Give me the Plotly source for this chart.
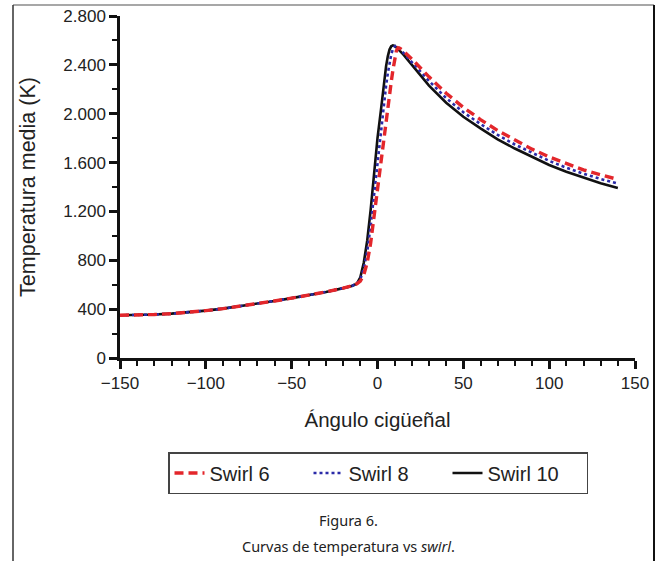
import plotly.graph_objects as go

# Crank angle (degrees) and mean in-cylinder temperature (K) for three swirl ratios
angle = [-150, -140, -130, -120, -110, -100, -90, -80, -70, -60, -50, -40, -30, -20,
         -15, -12, -10, -8, -6, -4, -2, 0, 2, 4, 5, 6, 7, 8, 9, 10, 11, 12, 13, 15,
         20, 30, 40, 50, 60, 70, 80, 90, 100, 110, 120, 130, 140]

compression = [350, 352, 356, 363, 373, 388, 404, 423, 445, 467, 490, 515, 541, 572,
               590, 608]

swirl10 = compression + [660, 780, 960, 1210, 1530, 1800, 2030, 2280, 2390, 2470,
                         2525, 2552, 2560, 2556, 2545, 2530, 2515, 2485,
                         2400, 2230, 2090, 1975, 1880, 1790, 1715, 1645, 1580,
                         1525, 1475, 1430, 1392]

swirl8 = compression + [645, 730, 870, 1080, 1340, 1620, 1880, 2120, 2230, 2330,
                        2420, 2485, 2530, 2552, 2556, 2548, 2535, 2500,
                        2425, 2268, 2128, 2012, 1916, 1826, 1748, 1678, 1614,
                        1558, 1508, 1466, 1428]

swirl6 = compression + [630, 680, 780, 940, 1160, 1420, 1650, 1870, 1965, 2060,
                        2150, 2260, 2360, 2450, 2515, 2540, 2536, 2515,
                        2448, 2302, 2168, 2052, 1952, 1862, 1782, 1710, 1646,
                        1590, 1540, 1500, 1462]

series_names = ["Swirl 6", "Swirl 8", "Swirl 10"]
x_tick_vals = [-150, -100, -50, 0, 50, 100, 150]
y_tick_vals = [0, 400, 800, 1200, 1600, 2000, 2400, 2800]

AXIS_FONT = "Liberation Sans, Arial, sans-serif"

fig = go.Figure()

# Drawn solid first so the dotted and dashed curves sit on top of it
fig.add_trace(go.Scatter(x=angle, y=swirl10, mode="lines", name=series_names[2],
                         legendrank=3,
                         line=dict(color="#111111", width=2.6)))
fig.add_trace(go.Scatter(x=angle, y=swirl8, mode="lines", name=series_names[1],
                         legendrank=2,
                         line=dict(color="#2a2aa8", width=2.6, dash="dot")))
fig.add_trace(go.Scatter(x=angle, y=swirl6, mode="lines", name=series_names[0],
                         legendrank=1,
                         line=dict(color="#e3262b", width=3.4, dash="9px,5px")))

W, H = 657, 561
L, R, T, B = 120, 22, 16, 203
PW, PH = W - L - R, H - T - B


def px(xp):
    return (xp - L) / PW


def py(yp):
    return (H - B - yp) / PH


# Thin frame around the whole figure and its caption
frame = [
    dict(x0=px(13), x1=px(654), y0=py(5), y1=py(5), color="#8a8a8a", w=1.5),
    dict(x0=px(13), x1=px(13), y0=py(5), y1=py(561), color="#333333", w=1.5),
    dict(x0=px(654), x1=px(654), y0=py(5), y1=py(561), color="#111111", w=2),
]
for f in frame:
    fig.add_shape(type="line", xref="paper", yref="paper",
                  x0=f["x0"], x1=f["x1"], y0=f["y0"], y1=f["y1"],
                  line=dict(color=f["color"], width=f["w"]))

CAPTION_FONT = "Noto Sans, Open Sans, sans-serif"
fig.add_annotation(xref="paper", yref="paper", x=px(348), y=py(520),
                   xanchor="center", yanchor="middle",
                   text="Figura 6.", showarrow=False,
                   font=dict(family=CAPTION_FONT, size=14.5, color="#222222"))
fig.add_annotation(xref="paper", yref="paper", x=px(348), y=py(546),
                   xanchor="center", yanchor="middle",
                   text="Curvas de temperatura vs <i>swirl</i>.", showarrow=False,
                   font=dict(family=CAPTION_FONT, size=14.5, color="#222222"))

fig.update_layout(
    width=W, height=H,
    margin=dict(l=L, r=R, t=T, b=B, autoexpand=False),
    paper_bgcolor="white", plot_bgcolor="white",
    separators=",.",
    font=dict(family=AXIS_FONT, color="#222222"),
    legend=dict(orientation="h", x=px(168), y=py(452), xanchor="left", yanchor="top",
                bordercolor="#444444", borderwidth=1.5, bgcolor="white",
                font=dict(family=AXIS_FONT, size=20, color="#222222"),
                entrywidth=94, itemwidth=30),
    showlegend=True,
)

fig.update_xaxes(
    range=[-150, 150], tickvals=x_tick_vals,
    showline=True, linecolor="#111111", linewidth=2.5, mirror=False,
    ticks="outside", ticklen=8, tickwidth=2.5, tickcolor="#111111",
    minor=dict(dtick=10, ticks="outside", ticklen=5, tickwidth=2, tickcolor="#111111"),
    showgrid=False, zeroline=False,
    tickfont=dict(family=AXIS_FONT, size=17, color="#222222"),
    title=dict(text="Ángulo cigüeñal", standoff=21,
               font=dict(family=AXIS_FONT, size=20.5, color="#222222")),
)
fig.update_yaxes(
    range=[0, 2800], tickvals=y_tick_vals, separatethousands=True,
    showline=True, linecolor="#111111", linewidth=2.5, mirror=False,
    ticks="outside", ticklen=8, tickwidth=2.5, tickcolor="#111111",
    minor=dict(dtick=200, ticks="outside", ticklen=5, tickwidth=2, tickcolor="#111111"),
    showgrid=False, zeroline=False,
    tickfont=dict(family=AXIS_FONT, size=17, color="#222222"),
    title=dict(text="Temperatura media (K)", standoff=22,
               font=dict(family=AXIS_FONT, size=21.5, color="#222222")),
)

fig.write_html("out.html")
